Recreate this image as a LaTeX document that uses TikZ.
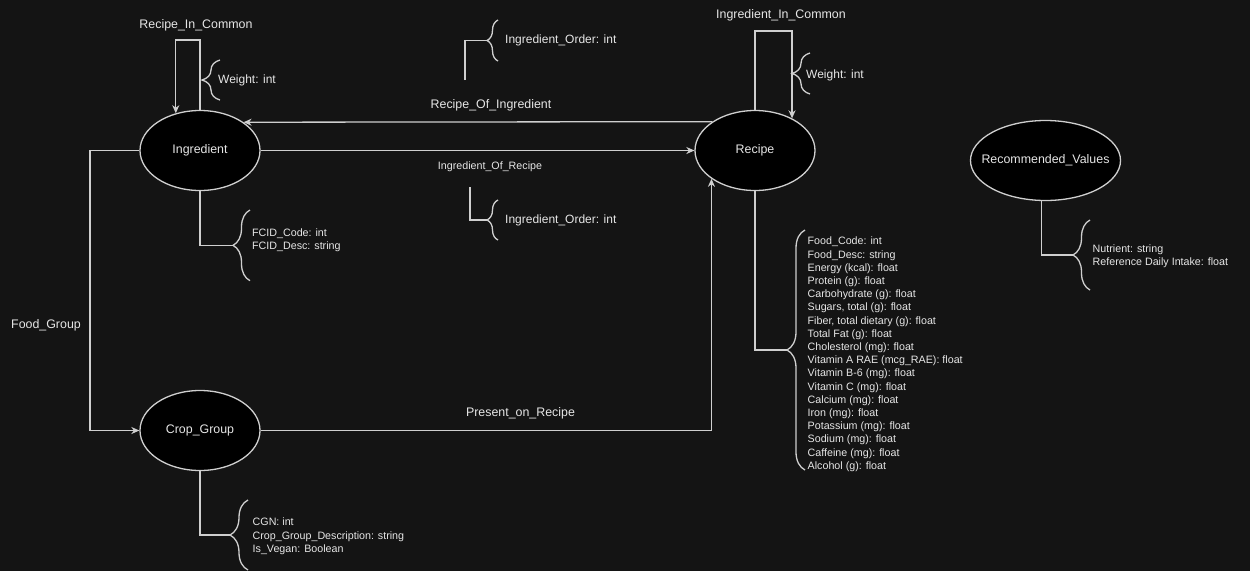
\documentclass[tikz,border=0pt]{standalone}
\usepackage{fontspec}
\setmainfont{Liberation Sans}
\usetikzlibrary{arrows.meta,decorations.pathreplacing,shapes.geometric}
\definecolor{bg}{HTML}{141414}
\definecolor{ln}{HTML}{CFCFCF}
\definecolor{tx}{HTML}{E6E6E6}
\begin{document}
\begin{tikzpicture}[x=1pt,y=-1pt,
  entity/.style={ellipse,draw=ln,fill=black,line width=1.3pt,minimum width=120pt,minimum height=80pt,inner sep=0pt,text=tx,font=\fontsize{12.4}{14}\selectfont},
  conn/.style={draw=ln,line width=1.3pt},
  arr/.style={conn,-{Stealth[length=8pt,width=7pt,inset=2.5pt,fill=ln]}},
  bigtext/.style={text=tx,inner sep=0pt,font=\fontsize{12.4}{14}\selectfont},
  smalltext/.style={text=tx,inner sep=0pt,align=left,anchor=west,font=\fontsize{10.7}{13.2}\selectfont},
  bracket/.style={draw=ln,line width=1.3pt,decorate,decoration={brace,amplitude=#1}},
  bracket/.default=18pt
]
\fill[bg] (0,0) rectangle (1250,571);
\useasboundingbox (0,0) rectangle (1250,571);

% entities
\node[entity] (ing) at (200,150.5) {Ingredient};
\node[entity] (rec) at (755,150.5) {Recipe};
\node[entity] (cg) at (200,430.5) {Crop\_Group};
\node[entity,minimum width=150pt,inner xsep=-20pt] (rv) at (1045.5,160.5) {Recommended\_Values};

% relationship labels
\node[bigtext] (lric) at (196,25) {Recipe\_In\_Common};
\node[bigtext] (liic) at (781,15) {Ingredient\_In\_Common};
\node[bigtext] (lroi) at (491,105.5) {Recipe\_Of\_Ingredient};
\node[text=tx,inner sep=0pt,font=\fontsize{10.7}{13}\selectfont] (lior) at (490,166.5) {Ingredient\_Of\_Recipe};
\node[bigtext] (lpor) at (520.5,413.5) {Present\_on\_Recipe};
\node[bigtext] (lfg) at (46,325.5) {Food\_Group};

% self loops
\draw[arr] (ing.north) -- (200,40) -| (ing.123.2);
\draw[arr] (rec.north) -- (755,31) -| (rec.41.6);

% relationships between entities
\draw[arr] (rec.146.8) -- (ing.33.2);
\draw[arr] (ing.east) -- (rec.west);
\draw[arr] (cg.east) -| (rec.213);
\draw[arr] (ing.west) -- (90,150.5) |- (cg.west);

% attribute brackets
\coordinate (wiTip) at (202,80);
\draw[bracket] (220,100) -- (220,60);
\node[smalltext,font=\fontsize{12}{14}\selectfont] (wi) at (218,80.5) {Weight: int};

\coordinate (wrTip) at (792,73.5);
\draw[bracket] (810,94) -- (810,53);
\node[smalltext,font=\fontsize{12}{14}\selectfont] (wr) at (806,75.5) {Weight: int};

\coordinate (ioaStart) at (465,80);
\coordinate (ioaTip) at (487,40.5);
\draw[conn] (ioaStart) |- (ioaTip);
\draw[bracket=11pt] (498,61) -- (498,20);
\node[smalltext,font=\fontsize{12}{14}\selectfont] (ioa) at (505,40.5) {Ingredient\_Order: int};

\coordinate (iobStart) at (470,187);
\coordinate (iobTip) at (487,220);
\draw[conn] (iobStart) |- (iobTip);
\draw[bracket=11pt] (498,240) -- (498,200);
\node[smalltext,font=\fontsize{12}{14}\selectfont] (iob) at (505,220.5) {Ingredient\_Order: int};

\coordinate (fcidTip) at (233,245.3);
\draw[conn] (ing.south) |- (fcidTip);
\draw[bracket=17pt] (250,280.7) -- (250,210);
\node[smalltext] (fcid) at (252,240.5) {FCID\_Code: int\\FCID\_Desc: string};

\coordinate (recTip) at (787,350);
\draw[conn] (rec.south) |- (recTip);
\draw[bracket] (805,470) -- (805,230);
\node[smalltext] (recattr) at (807.5,354.3) {Food\_Code: int\\Food\_Desc: string\\Energy (kcal): float\\Protein (g): float\\Carbohydrate (g): float\\Sugars, total (g): float\\Fiber, total dietary (g): float\\Total Fat (g): float\\Cholesterol (mg): float\\Vitamin A RAE (mcg\_RAE): float\\Vitamin B-6 (mg): float\\Vitamin C (mg): float\\Calcium (mg): float\\Iron (mg): float\\Potassium (mg): float\\Sodium (mg): float\\Caffeine (mg): float\\Alcohol (g): float};

\coordinate (rvTip) at (1073,255);
\draw[conn] (rv.264) |- (rvTip);
\draw[bracket=17pt] (1090,290) -- (1090,220);
\node[smalltext] (rvattr) at (1092.5,256) {Nutrient: string\\Reference Daily Intake: float};

\coordinate (cgTip) at (230,535);
\draw[conn] (cg.south) |- (cgTip);
\draw[bracket] (248,570) -- (248,500);
\node[smalltext] (cgattr) at (252.5,536.3) {CGN: int\\Crop\_Group\_Description: string\\Is\_Vegan: Boolean};
\end{tikzpicture}
\end{document}
